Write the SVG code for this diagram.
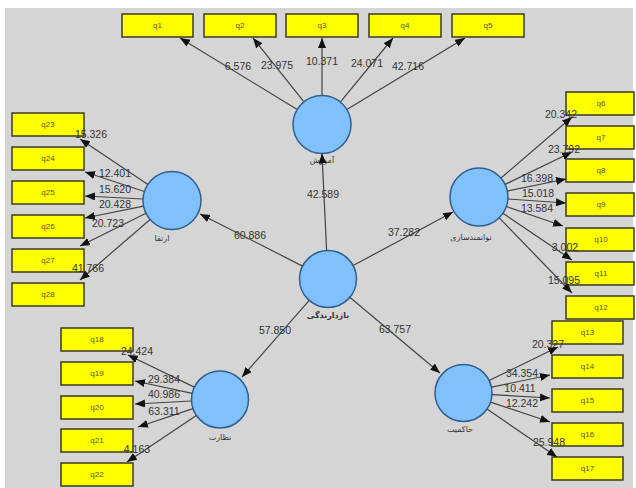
<svg xmlns="http://www.w3.org/2000/svg" width="636" height="488" viewBox="0 0 636 488">
<defs>
<marker id="ah" markerUnits="userSpaceOnUse" markerWidth="11" markerHeight="9" refX="10" refY="4" orient="auto">
<path d="M0,0 L10,4 L0,8 z" fill="#111"/>
</marker>
<style>
.bx{fill:#ffff00;stroke:#3a3a20;stroke-width:1.5}
.bt{font-family:"Liberation Sans",Arial,sans-serif;font-size:8px;fill:#555522;text-anchor:middle}
.nd{fill:#80c0fc;stroke:#2f5f8f;stroke-width:1.5}
.nt{font-family:"DejaVu Sans",sans-serif;font-size:8px;fill:#333;text-anchor:middle}
.ln{stroke:#444;stroke-width:1.2;marker-end:url(#ah)}
.lb{font-family:"Liberation Sans",Arial,sans-serif;font-size:10.5px;fill:#333;text-anchor:middle}
</style>
</defs>
<rect x="0" y="0" width="636" height="488" fill="#ffffff"/>
<rect x="5" y="8" width="628" height="480" fill="#d5d5d5"/>

<g id="n-amoozesh"><circle class="nd" cx="322" cy="124.5" r="29"/><text class="nt" x="322" y="163">آموزش</text></g>
<g id="n-ertegha"><circle class="nd" cx="172" cy="200.5" r="29"/><text class="nt" x="162" y="241">ارتقا</text></g>
<g id="n-tavanmandsazi"><circle class="nd" cx="479" cy="197" r="29"/><text class="nt" x="471" y="240">توانمندسازی</text></g>
<g id="n-bazdarandegi"><circle class="nd" cx="328" cy="279" r="28.5"/><text class="nt" x="328" y="318" font-weight="bold">بازدارندگی</text></g>
<g id="n-nezarat"><circle class="nd" cx="220" cy="399.5" r="28.5"/><text class="nt" x="220" y="440">نظارت</text></g>
<g id="n-hakemiyat"><circle class="nd" cx="463.5" cy="393" r="28.5"/><text class="nt" x="460" y="432">حاکمیت</text></g>

<g id="q1"><rect class="bx" x="122" y="14" width="71" height="23"/><text class="bt" x="157.5" y="28">q1</text></g>
<g id="q2"><rect class="bx" x="204" y="14" width="72" height="23"/><text class="bt" x="240" y="28">q2</text></g>
<g id="q3"><rect class="bx" x="286" y="14" width="72" height="23"/><text class="bt" x="322" y="28">q3</text></g>
<g id="q4"><rect class="bx" x="369" y="14" width="72" height="23"/><text class="bt" x="405" y="28">q4</text></g>
<g id="q5"><rect class="bx" x="452" y="14" width="72" height="23"/><text class="bt" x="488" y="28">q5</text></g>

<g id="q23"><rect class="bx" x="12" y="113" width="72" height="23"/><text class="bt" x="48" y="127">q23</text></g>
<g id="q24"><rect class="bx" x="12" y="147" width="72" height="23"/><text class="bt" x="48" y="161">q24</text></g>
<g id="q25"><rect class="bx" x="12" y="181" width="72" height="23"/><text class="bt" x="48" y="195">q25</text></g>
<g id="q26"><rect class="bx" x="12" y="215" width="72" height="23"/><text class="bt" x="48" y="229">q26</text></g>
<g id="q27"><rect class="bx" x="12" y="249" width="72" height="23"/><text class="bt" x="48" y="263">q27</text></g>
<g id="q28"><rect class="bx" x="12" y="283" width="72" height="23"/><text class="bt" x="48" y="297">q28</text></g>

<g id="q6"><rect class="bx" x="566" y="92" width="68" height="23"/><text class="bt" x="601" y="106">q6</text></g>
<g id="q7"><rect class="bx" x="566" y="126" width="68" height="23"/><text class="bt" x="601" y="140">q7</text></g>
<g id="q8"><rect class="bx" x="566" y="159" width="68" height="23"/><text class="bt" x="601" y="173">q8</text></g>
<g id="q9"><rect class="bx" x="566" y="193" width="68" height="23"/><text class="bt" x="601" y="207">q9</text></g>
<g id="q10"><rect class="bx" x="566" y="228" width="68" height="23"/><text class="bt" x="601" y="242">q10</text></g>
<g id="q11"><rect class="bx" x="566" y="262" width="68" height="23"/><text class="bt" x="601" y="276">q11</text></g>
<g id="q12"><rect class="bx" x="566" y="296" width="68" height="23"/><text class="bt" x="601" y="310">q12</text></g>

<g id="q13"><rect class="bx" x="552" y="321" width="71" height="23"/><text class="bt" x="587.5" y="335">q13</text></g>
<g id="q14"><rect class="bx" x="552" y="355" width="71" height="23"/><text class="bt" x="587.5" y="369">q14</text></g>
<g id="q15"><rect class="bx" x="552" y="389" width="71" height="23"/><text class="bt" x="587.5" y="403">q15</text></g>
<g id="q16"><rect class="bx" x="552" y="423" width="71" height="23"/><text class="bt" x="587.5" y="437">q16</text></g>
<g id="q17"><rect class="bx" x="552" y="457" width="71" height="23"/><text class="bt" x="587.5" y="471">q17</text></g>

<g id="q18"><rect class="bx" x="61" y="328" width="72" height="23"/><text class="bt" x="97" y="342">q18</text></g>
<g id="q19"><rect class="bx" x="61" y="362" width="72" height="23"/><text class="bt" x="97" y="376">q19</text></g>
<g id="q20"><rect class="bx" x="61" y="396" width="72" height="23"/><text class="bt" x="97" y="410">q20</text></g>
<g id="q21"><rect class="bx" x="61" y="429" width="72" height="23"/><text class="bt" x="97" y="443">q21</text></g>
<g id="q22"><rect class="bx" x="61" y="463" width="72" height="23"/><text class="bt" x="97" y="477">q22</text></g>

<g id="connectors">
<line class="ln" x1="296.8" y1="109.2" x2="180" y2="38"/>
<line class="ln" x1="303.6" y1="101.4" x2="253" y2="38"/>
<line class="ln" x1="322" y1="95" x2="322" y2="38"/>
<line class="ln" x1="340.7" y1="101.7" x2="393" y2="38"/>
<line class="ln" x1="347.3" y1="109.2" x2="465" y2="38"/>

<line class="ln" x1="147.9" y1="184.4" x2="80" y2="139"/>
<line class="ln" x1="144.4" y1="191.5" x2="85" y2="172"/>
<line class="ln" x1="143" y1="199" x2="85" y2="196"/>
<line class="ln" x1="143.5" y1="206.2" x2="85" y2="218"/>
<line class="ln" x1="146" y1="213.3" x2="80" y2="246"/>
<line class="ln" x1="150.1" y1="219.5" x2="80" y2="280"/>

<line class="ln" x1="501" y1="178" x2="572" y2="117"/>
<line class="ln" x1="505.1" y1="184.4" x2="572" y2="152"/>
<line class="ln" x1="507.4" y1="191.1" x2="566" y2="179"/>
<line class="ln" x1="507.9" y1="199" x2="566" y2="203"/>
<line class="ln" x1="506.4" y1="206.5" x2="563" y2="226"/>
<line class="ln" x1="503" y1="213.3" x2="572" y2="260"/>
<line class="ln" x1="499.2" y1="217.8" x2="572" y2="293"/>

<line class="ln" x1="194.3" y1="387.1" x2="128" y2="355"/>
<line class="ln" x1="192.2" y1="393.4" x2="135" y2="381"/>
<line class="ln" x1="191.5" y1="401" x2="135" y2="404"/>
<line class="ln" x1="193" y1="408.6" x2="138" y2="427"/>
<line class="ln" x1="196.3" y1="415.4" x2="127" y2="462"/>

<line class="ln" x1="489.1" y1="380.5" x2="558" y2="347"/>
<line class="ln" x1="491.4" y1="387.2" x2="550" y2="375"/>
<line class="ln" x1="492" y1="394.7" x2="550" y2="398"/>
<line class="ln" x1="490.5" y1="402.1" x2="550" y2="422"/>
<line class="ln" x1="487" y1="409.1" x2="557" y2="457"/>

<line class="ln" x1="326.6" y1="250.5" x2="322" y2="153.5"/>
<line class="ln" x1="302.6" y1="266.1" x2="200" y2="214"/>
<line class="ln" x1="353.1" y1="265.5" x2="453" y2="212"/>
<line class="ln" x1="309.2" y1="300.4" x2="242" y2="377"/>
<line class="ln" x1="349.8" y1="297.3" x2="440" y2="373"/>

<text class="lb" x="238" y="70">6.576</text>
<text class="lb" x="277" y="69">23.975</text>
<text class="lb" x="322" y="65">10.371</text>
<text class="lb" x="367" y="67">24.071</text>
<text class="lb" x="408" y="70">42.716</text>

<text class="lb" x="91" y="138">15.326</text>
<text class="lb" x="115" y="177">12.401</text>
<text class="lb" x="115" y="193">15.620</text>
<text class="lb" x="115" y="208">20.428</text>
<text class="lb" x="108" y="227">20.723</text>
<text class="lb" x="88" y="272">41.766</text>

<text class="lb" x="561" y="118">20.342</text>
<text class="lb" x="564" y="153">23.792</text>
<text class="lb" x="537" y="182">16.398</text>
<text class="lb" x="538" y="197">15.018</text>
<text class="lb" x="537" y="212">13.584</text>
<text class="lb" x="565" y="251">3.002</text>
<text class="lb" x="564" y="284">15.095</text>

<text class="lb" x="137" y="355">24.424</text>
<text class="lb" x="164" y="383">29.384</text>
<text class="lb" x="164" y="398">40.986</text>
<text class="lb" x="164" y="415">63.311</text>
<text class="lb" x="137" y="453">4.163</text>

<text class="lb" x="548" y="348">20.327</text>
<text class="lb" x="522" y="377">34.354</text>
<text class="lb" x="520" y="392">10.411</text>
<text class="lb" x="522" y="407">12.242</text>
<text class="lb" x="549" y="446">25.948</text>

<text class="lb" x="323" y="198">42.589</text>
<text class="lb" x="250" y="239">60.886</text>
<text class="lb" x="404" y="236">37.282</text>
<text class="lb" x="275" y="334">57.850</text>
<text class="lb" x="395" y="333">63.757</text>
</g>
</svg>
